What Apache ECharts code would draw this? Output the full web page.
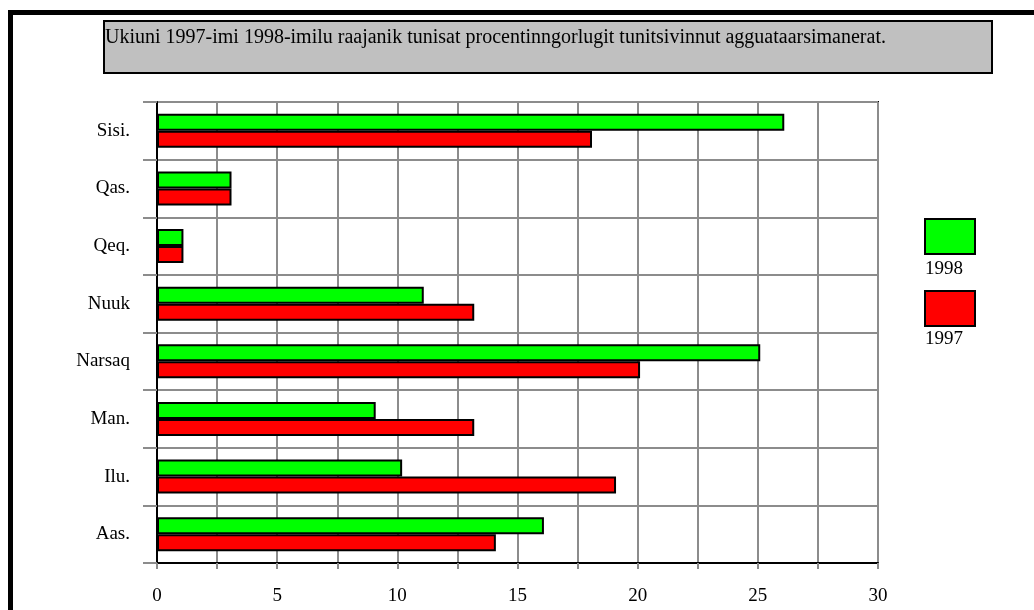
<!DOCTYPE html>
<html lang="kl">
  <head>
    <meta charset="UTF-8" />
    <title>Ukiuni 1997-imi 1998-imilu</title>
    <script src="https://cdn.jsdelivr.net/npm/echarts@6/dist/echarts.min.js"></script>
    <style>
      body { margin: 0; background: #fff; }
    </style>
  </head>

  <body>
    <div id="main" style="width: 1034px; height: 610px"></div>
    <script type="text/javascript">
      // bottom to top, like the picture
      const towns = ["Aas.", "Ilu.", "Man.", "Narsaq", "Nuuk", "Qeq.", "Qas.", "Sisi."];
      const values1997 = [14.1, 19.1, 13.2, 20.1, 13.2, 1.1, 3.1, 18.1];
      const values1998 = [16.1, 10.2, 9.1, 25.1, 11.1, 1.1, 3.1, 26.1];
      const titleText =
        "Ukiuni 1997-imi 1998-imilu raajanik tunisat procentinngorlugit tunitsivinnut agguataarsimanerat.";

      const serif = "Liberation Serif";
      const grey = "#8c8c8c";

      let options = {
        animation: false,
        textStyle: { fontFamily: serif },
        grid: {
          left: 157,
          right: 156,
          top: 102,
          bottom: 47,
          show: true,
          borderColor: "#000",
          borderWidth: 2,
        },
        legend: {
          data: ["1998", "1997"],
          orient: "vertical",
          left: 919,
          top: 213,
          icon: "rect",
          itemWidth: 50,
          itemHeight: 35,
          itemGap: 35,
          formatter: () => "",
          selectedMode: false,
          itemStyle: { borderColor: "#000", borderWidth: 2 },
        },
        xAxis: {
          type: "value",
          min: 0,
          max: 30,
          interval: 2.5,
          axisLine: { show: true, lineStyle: { color: "#000", width: 2 } },
          axisTick: { show: true, length: 6, lineStyle: { color: grey, width: 2 } },
          splitLine: { show: true, lineStyle: { color: grey, width: 2 } },
          axisLabel: {
            margin: 24,
            fontSize: 19,
            color: "#000",
            fontFamily: serif,
            formatter: (v) => (v % 5 === 0 ? String(v) : ""),
          },
        },
        yAxis: {
          type: "category",
          data: towns,
          axisLine: { show: true, lineStyle: { color: "#000", width: 2 } },
          axisTick: { show: true, length: 14, lineStyle: { color: grey, width: 2 } },
          splitLine: { show: true, lineStyle: { color: grey, width: 2 } },
          axisLabel: {
            margin: 27,
            fontSize: 19,
            color: "#000",
            fontFamily: serif,
          },
        },
        series: [
          {
            name: "1998",
            type: "bar",
            data: values1998,
            barWidth: 17,
            barGap: "0%",
            itemStyle: { color: "#00ff00", borderColor: "#000", borderWidth: 2 },
          },
          {
            name: "1997",
            type: "bar",
            data: values1997,
            barWidth: 17,
            barGap: "0%",
            itemStyle: { color: "#ff0000", borderColor: "#000", borderWidth: 2 },
          },
        ],
        graphic: [
          // outer frame
          { type: "rect", shape: { x: 8, y: 10, width: 1026, height: 5 }, style: { fill: "#000" } },
          { type: "rect", shape: { x: 8, y: 10, width: 5, height: 600 }, style: { fill: "#000" } },
          // title box
          {
            type: "rect",
            shape: { x: 104, y: 21, width: 888, height: 52 },
            style: { fill: "#c0c0c0", stroke: "#000", lineWidth: 2 },
          },
          {
            type: "text",
            left: 105,
            top: 28,
            style: { text: titleText, font: "20px " + serif, fill: "#000" },
          },
          // legend labels sit under the boxes
          { type: "text", left: 925, top: 260, style: { text: "1998", font: "19px " + serif, fill: "#000" } },
          { type: "text", left: 925, top: 330, style: { text: "1997", font: "19px " + serif, fill: "#000" } },
        ],
      };

      let myChart = echarts.init(document.getElementById("main"));
      myChart.setOption(options);
    </script>
  </body>
</html>
